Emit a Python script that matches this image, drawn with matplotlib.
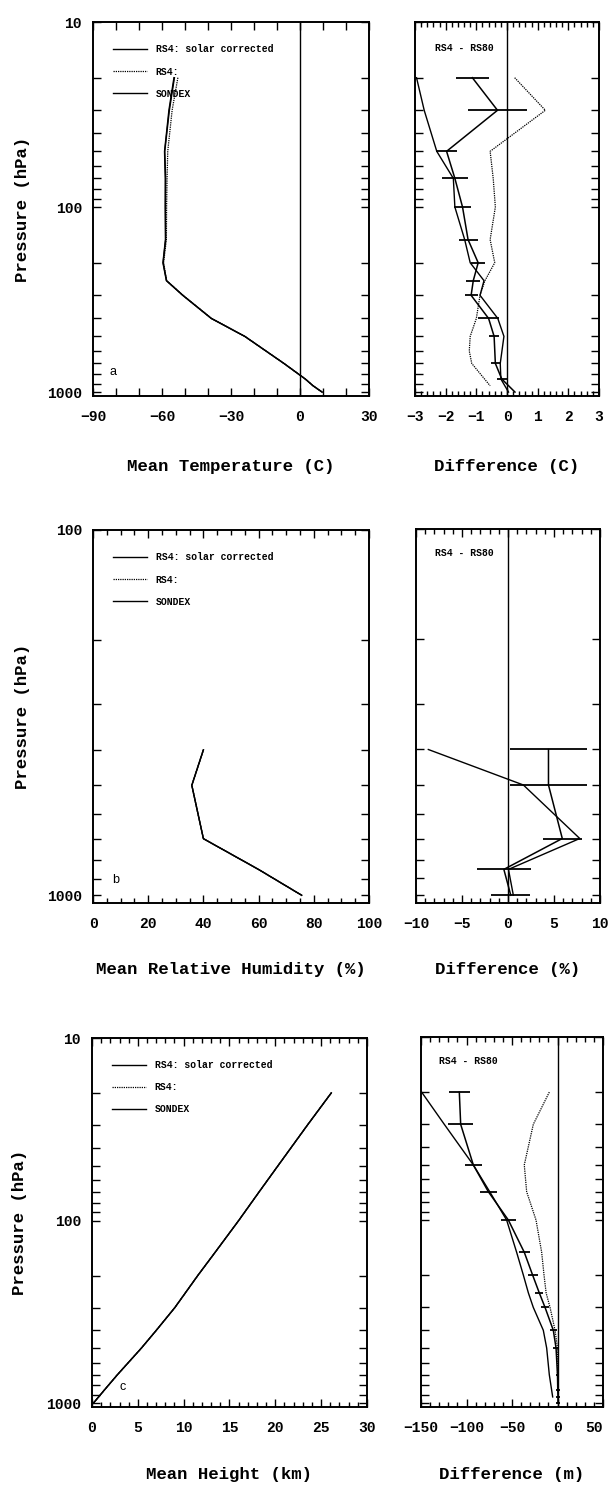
import matplotlib
matplotlib.use('Agg')
import matplotlib.pyplot as plt
from matplotlib.ticker import FixedLocator, NullFormatter, FixedFormatter, MultipleLocator

# ---------------- data ----------------
series_labels = ['RS4: solar corrected', 'RS4:', 'SONDEX']
diff_label = 'RS4 - RS80'

# (a) mean temperature
p_temp = [20, 30, 50, 70, 100, 150, 200, 250, 300, 400, 500, 700, 850, 925, 1000]
temp_rs4_corr = [-54.6, -56.8, -58.8, -58.4, -58.5, -58.4, -59.5, -58.0, -50.9, -38.5, -24.0, -7.0, 2.3, 5.7, 9.6]
temp_rs4 = [-53.1, -55.6, -57.5, -57.8, -58.0, -58.1, -59.3, -58.0, -50.9, -38.5, -24.0, -7.0, 2.3, 5.7, 9.6]
temp_sondex = [-54.8, -57.0, -58.9, -58.6, -58.6, -58.5, -59.6, -58.1, -51.0, -38.6, -24.0, -7.0, 2.3, 5.7, 9.6]

# (a) temperature differences
p_dtemp = [20, 30, 50, 70, 100, 150, 200, 250, 300, 400, 500, 700, 850, 1000]
dtemp_corr = [-1.13, -0.31, -1.97, -1.70, -1.45, -1.27, -0.94, -1.10, -1.17, -0.60, -0.42, -0.38, -0.17, 0.26]
dtemp_corr_err = [0.53, 0.96, 0.33, 0.42, 0.27, 0.31, 0.22, 0.23, 0.21, 0.35, 0.16, 0.15, 0.16, 0.0]
dtemp_sondex = [-2.95, -2.70, -2.29, -1.75, -1.70, -1.38, -1.20, -0.75, -0.88, -0.30, -0.10, -0.22, -0.20, 0.05]
p_dtemp_rs4 = [20, 30, 50, 70, 100, 150, 200, 250, 300, 400, 500, 600, 700, 925]
dtemp_rs4 = [0.25, 1.25, -0.55, -0.45, -0.38, -0.55, -0.40, -0.72, -0.88, -1.00, -1.20, -1.23, -1.15, -0.55]

# (b) mean relative humidity
p_rh = [400, 500, 700, 850, 1000]
rh_rs4_corr = [40.0, 35.8, 40.0, 60.0, 75.6]
rh_rs4 = [40.0, 35.8, 40.0, 60.0, 75.6]
rh_sondex = [40.0, 35.8, 40.0, 60.0, 75.6]

# (b) humidity differences
drh_corr = [4.4, 4.4, 5.9, -0.45, 0.3]
drh_corr_err = [4.2, 4.2, 2.1, 2.9, 2.1]
drh_sondex = [-8.66, 1.67, 7.8, 0.05, 0.58]

# (c) mean height
p_hgt = [20, 30, 50, 70, 100, 150, 200, 250, 300, 400, 500, 700, 850, 925, 1000]
hgt_rs4_corr = [26.1, 23.5, 20.3, 18.2, 16.0, 13.4, 11.54, 10.16, 9.03, 7.0, 5.38, 2.76, 1.33, 0.72, 0.15]
hgt_rs4 = [26.1, 23.5, 20.3, 18.2, 16.0, 13.4, 11.54, 10.16, 9.03, 7.0, 5.38, 2.76, 1.33, 0.72, 0.15]
hgt_sondex = [26.1, 23.5, 20.3, 18.2, 16.0, 13.4, 11.54, 10.16, 9.03, 7.0, 5.38, 2.76, 1.33, 0.72, 0.15]

# (c) height differences
dhgt_corr = [-107.9, -106.4, -92.5, -76.0, -54.0, -36.5, -27.3, -20.0, -13.7, -4.6, -1.6, 0.0, 0.3, 0.5, 0.5]
dhgt_corr_err = [11.5, 13.7, 9.2, 9.2, 7.9, 6.0, 5.5, 4.6, 4.4, 3.7, 3.3, 2.0, 2.0, 2.0, 2.0]
p_dhgt_sondex = [20, 30, 50, 70, 100, 150, 200, 250, 300, 400, 500, 700, 925]
dhgt_sondex = [-149.3, -124.4, -92.5, -74.5, -55.9, -44.9, -37.5, -32.0, -26.6, -15.6, -11.9, -9.0, -5.3]
p_dhgt_rs4 = [20, 30, 50, 70, 100, 150, 200, 250, 300, 400, 500, 700]
dhgt_rs4 = [-9.0, -26.6, -36.5, -33.9, -23.6, -17.4, -14.8, -12.5, -8.2, -2.7, 0.0, 0.0]

# ---------------- layout ----------------
W, H = 608, 1487
fig = plt.figure(figsize=(W / 100, H / 100), dpi=100)

MONO = 'Liberation Mono'


def px_axes(x0, y0, x1, y1):
    return fig.add_axes([x0 / W, 1 - y1 / H, (x1 - x0) / W, (y1 - y0) / H])


def style_axes(ax, ptop, major_p, minor_p, show_ylabels):
    ax.set_yscale('log')
    ax.set_ylim(1050, ptop)
    ax.yaxis.set_major_locator(FixedLocator(major_p))
    ax.yaxis.set_minor_locator(FixedLocator(minor_p))
    ax.yaxis.set_minor_formatter(NullFormatter())
    if show_ylabels:
        ax.yaxis.set_major_formatter(FixedFormatter([str(v) for v in major_p]))
    else:
        ax.yaxis.set_major_formatter(NullFormatter())
    ax.tick_params(which='both', direction='in', top=True, right=True, width=1.0)
    ax.tick_params(axis='y', which='both', length=5.5, pad=8)
    ax.tick_params(axis='x', which='major', length=6, pad=10)
    ax.tick_params(axis='x', which='minor', length=3.5)
    for s in ax.spines.values():
        s.set_linewidth(1.4)
    for lab in ax.get_xticklabels() + ax.get_yticklabels():
        lab.set_family(MONO)
        lab.set_weight('bold')
        lab.set_fontsize(10.5)


def set_labels(ax, xlabel, xlab_y, ylabel=None, ylab_x=None):
    ax.set_xlabel(xlabel, family=MONO, weight='bold', fontsize=12.5, va='center')
    ax.xaxis.set_label_coords(0.5, xlab_y)
    if ylabel is not None:
        ax.set_ylabel(ylabel, family=MONO, weight='bold', fontsize=12.5, va='center')
        ax.yaxis.set_label_coords(ylab_x, 0.5)


def add_legend(ax, lines):
    leg = ax.legend(lines, series_labels, loc='upper left', bbox_to_anchor=(0.072, 0.94),
                    frameon=False, borderpad=0, borderaxespad=0, handlelength=3.5,
                    handletextpad=0.9, labelspacing=1.25,
                    prop={'family': MONO, 'weight': 'bold', 'size': 7})
    return leg


lw = 1.0
st_corr = dict(color='black', lw=lw, ls='-')
st_rs4 = dict(color='black', lw=0.9, ls=(0, (1, 0.8)))
st_sondex = dict(color='black', lw=lw, ls='-')

p_major10 = [10, 100, 1000]
p_minor10 = [20, 30, 40, 50, 60, 70, 80, 90, 200, 300, 400, 500, 600, 700, 800, 900]
p_major100 = [100, 1000]
p_minor100 = [200, 300, 400, 500, 600, 700, 800, 900]

# ---- (a) temperature ----
axa = px_axes(93, 22, 369, 396)
l1, = axa.plot(temp_rs4_corr, p_temp, **st_corr)
l2, = axa.plot(temp_rs4, p_temp, **st_rs4)
l3, = axa.plot(temp_sondex, p_temp, **st_sondex)
axa.axvline(0, color='black', lw=1.0)
axa.set_xlim(-90, 30)
axa.xaxis.set_major_locator(FixedLocator([-90, -60, -30, 0, 30]))
axa.xaxis.set_minor_locator(MultipleLocator(10))
style_axes(axa, 10, p_major10, p_minor10, True)
axa.tick_params(axis='x', which='minor', length=6)
add_legend(axa, [l1, l2, l3])
axa.text(0.058, 0.064, 'a', transform=axa.transAxes, family='Liberation Sans', fontsize=9,
         va='center', ha='left')
set_labels(axa, 'Mean Temperature (C)', -70 / 374, 'Pressure (hPa)', -0.257)

axad = px_axes(415, 22, 599, 396)
axad.errorbar(dtemp_corr, p_dtemp, xerr=dtemp_corr_err, color='black', lw=1.1, elinewidth=1.3, capsize=0)
axad.plot(dtemp_sondex, p_dtemp, **st_sondex)
axad.plot(dtemp_rs4, p_dtemp_rs4, **st_rs4)
axad.axvline(0, color='black', lw=1.0)
axad.set_xlim(-3, 3)
axad.xaxis.set_major_locator(MultipleLocator(1))
axad.xaxis.set_minor_locator(MultipleLocator(0.2))
style_axes(axad, 10, p_major10, p_minor10, False)
axad.text(0.109, 0.93, diff_label, transform=axad.transAxes, family=MONO, weight='bold',
          fontsize=7, va='center', ha='left')
set_labels(axad, 'Difference (C)', -70 / 374)

# ---- (b) relative humidity ----
axb = px_axes(93, 530, 369, 903)
m1, = axb.plot(rh_rs4_corr, p_rh, **st_corr)
m2, = axb.plot(rh_rs4, p_rh, **st_rs4)
m3, = axb.plot(rh_sondex, p_rh, **st_sondex)
axb.set_xlim(0, 100)
axb.xaxis.set_major_locator(MultipleLocator(20))
axb.xaxis.set_minor_locator(MultipleLocator(5))
style_axes(axb, 100, p_major100, p_minor100, True)
add_legend(axb, [m1, m2, m3])
axb.text(0.069, 0.062, 'b', transform=axb.transAxes, family='Liberation Sans', fontsize=9,
         va='center', ha='left')
set_labels(axb, 'Mean Relative Humidity (%)', -67 / 373, 'Pressure (hPa)', -0.257)

axbd = px_axes(416, 529, 600, 903)
axbd.errorbar(drh_corr, p_rh, xerr=drh_corr_err, color='black', lw=1.1, elinewidth=1.3, capsize=0)
axbd.plot(drh_sondex, p_rh, **st_sondex)
axbd.axvline(0, color='black', lw=1.0)
axbd.set_xlim(-10, 10)
axbd.xaxis.set_major_locator(MultipleLocator(5))
axbd.xaxis.set_minor_locator(MultipleLocator(1))
style_axes(axbd, 100, p_major100, p_minor100, False)
axbd.text(0.103, 0.936, diff_label, transform=axbd.transAxes, family=MONO, weight='bold',
          fontsize=7, va='center', ha='left')
set_labels(axbd, 'Difference (%)', -67 / 374)

# ---- (c) height ----
axc = px_axes(92, 1038, 367, 1407)
n1, = axc.plot(hgt_rs4_corr, p_hgt, **st_corr)
n2, = axc.plot(hgt_rs4, p_hgt, **st_rs4)
n3, = axc.plot(hgt_sondex, p_hgt, **st_sondex)
axc.set_xlim(0, 30)
axc.xaxis.set_major_locator(MultipleLocator(5))
axc.xaxis.set_minor_locator(MultipleLocator(1))
style_axes(axc, 10, p_major10, p_minor10, True)
add_legend(axc, [n1, n2, n3])
axc.text(0.10, 0.054, 'c', transform=axc.transAxes, family='Liberation Sans', fontsize=9,
         va='center', ha='left')
set_labels(axc, 'Mean Height (km)', -67 / 369, 'Pressure (hPa)', -0.265)

axcd = px_axes(421, 1037, 603, 1407)
axcd.errorbar(dhgt_corr, p_hgt, xerr=dhgt_corr_err, color='black', lw=1.1, elinewidth=1.3, capsize=0)
axcd.plot(dhgt_sondex, p_dhgt_sondex, **st_sondex)
axcd.plot(dhgt_rs4, p_dhgt_rs4, **st_rs4)
axcd.axvline(0, color='black', lw=1.0)
axcd.set_xlim(-150, 50)
axcd.xaxis.set_major_locator(MultipleLocator(50))
axcd.xaxis.set_minor_locator(MultipleLocator(10))
style_axes(axcd, 10, p_major10, p_minor10, False)
axcd.text(0.099, 0.935, diff_label, transform=axcd.transAxes, family=MONO, weight='bold',
          fontsize=7, va='center', ha='left')
set_labels(axcd, 'Difference (m)', -67 / 370)

# keep the rightmost tick label of the last panel inside the figure
fig.canvas.draw()
for lab in axcd.get_xticklabels():
    if lab.get_text() == '50':
        lab.set_horizontalalignment('right')

fig.savefig('out.png', dpi=100)
